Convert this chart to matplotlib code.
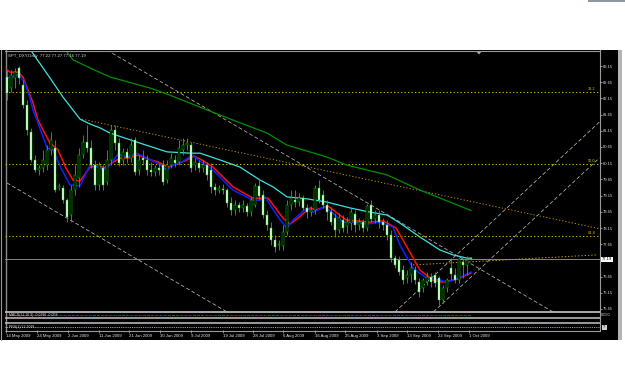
import matplotlib
matplotlib.use('Agg')
import matplotlib.pyplot as plt
from matplotlib.patches import Rectangle, Polygon
import matplotlib.transforms as mtransforms

plt.rcParams['font.family'] = ['Liberation Sans', 'DejaVu Sans']

W, H = 625, 379

# ---------------- data ----------------
opens = [82.81, 82.47, 82.78, 83.09, 82.56, 81.95, 81.11, 80.25, 79.94, 80.00,
         80.09, 80.56, 80.62, 79.39, 79.39, 79.01, 78.55, 79.32, 79.69, 80.40,
         80.80, 80.62, 80.09, 79.48, 80.00, 79.57, 80.25, 81.17, 80.77, 80.25,
         80.50, 80.31, 80.87, 79.94, 80.31, 80.25, 79.94, 79.88, 80.00, 80.09,
         79.63, 80.09, 80.25, 80.19, 80.56, 80.71, 80.71, 80.09, 80.16, 80.00,
         80.09, 79.94, 79.42, 79.32, 79.35, 79.32, 78.92, 78.71, 78.86, 78.77,
         78.83, 78.64, 78.86, 79.45, 79.17, 78.55, 78.15, 77.78, 77.63, 77.60,
         78.03, 78.86, 79.01, 78.95, 79.08, 78.77, 78.64, 78.71, 79.39, 79.17,
         78.86, 78.64, 78.46, 78.09, 78.40, 78.21, 78.30, 78.58, 78.24, 78.34,
         78.15, 78.86, 78.43, 78.55, 78.34, 78.24, 77.94, 77.22, 77.16, 76.85,
         76.61, 76.70, 76.85, 76.48, 76.30, 76.48, 76.64, 76.70, 76.61, 75.93,
         76.30, 76.91, 76.70, 76.55, 77.10, 77.00, 77.22]
highs = [83.03, 83.03, 83.09, 83.15, 82.72, 82.10, 81.24, 80.40, 80.09, 80.56,
         80.71, 81.11, 80.87, 79.54, 79.48, 79.08, 79.48, 80.09, 80.62, 81.02,
         81.33, 80.87, 80.25, 80.19, 80.09, 80.56, 81.33, 81.33, 80.93, 80.62,
         80.62, 80.93, 80.96, 80.40, 80.56, 80.40, 80.19, 80.09, 80.16, 80.25,
         80.25, 80.46, 80.40, 80.87, 80.93, 80.93, 80.80, 80.31, 80.25, 80.25,
         80.19, 80.16, 79.54, 79.48, 79.51, 79.39, 79.11, 79.01, 78.95, 79.01,
         78.92, 79.11, 79.54, 79.69, 79.32, 78.71, 78.34, 77.94, 77.78, 78.24,
         79.01, 79.32, 79.32, 79.23, 79.17, 78.89, 78.83, 79.48, 79.63, 79.32,
         79.01, 78.80, 78.61, 78.61, 78.55, 78.49, 78.77, 78.71, 78.46, 78.43,
         78.89, 79.01, 78.71, 78.71, 78.46, 78.40, 78.09, 77.32, 77.29, 77.00,
         76.85, 77.10, 76.97, 76.61, 76.61, 76.79, 76.76, 76.79, 76.67, 76.39,
         76.61, 77.22, 76.91, 77.26, 77.22, 77.29, 77.27]
lows = [82.10, 82.35, 82.47, 82.59, 81.85, 81.02, 80.19, 79.88, 79.79, 79.88,
        79.94, 80.40, 79.26, 79.32, 78.92, 78.34, 78.34, 79.17, 79.42, 80.31,
        80.50, 80.00, 79.32, 79.32, 79.32, 79.48, 80.09, 80.56, 80.06, 80.09,
        80.16, 80.19, 79.79, 79.79, 80.09, 79.79, 79.76, 79.76, 79.79, 79.48,
        79.54, 80.00, 80.03, 80.09, 80.40, 80.56, 79.88, 79.94, 79.88, 79.88,
        79.63, 79.23, 79.17, 79.23, 79.20, 78.80, 78.55, 78.55, 78.64, 78.64,
        78.52, 78.52, 78.80, 79.01, 78.46, 78.09, 77.63, 77.41, 77.47, 77.47,
        77.94, 78.71, 78.80, 78.83, 78.71, 78.46, 78.52, 78.58, 78.92, 78.77,
        78.40, 78.24, 77.87, 78.00, 78.03, 78.00, 78.09, 78.03, 78.09, 78.03,
        78.06, 78.34, 78.30, 78.15, 78.09, 77.78, 77.10, 76.91, 76.70, 76.42,
        76.45, 76.48, 76.42, 76.02, 76.17, 76.39, 76.33, 76.33, 75.77, 75.84,
        76.17, 76.55, 76.45, 76.45, 76.61, 76.70, 77.16]
closes = [82.32, 82.87, 82.96, 82.78, 81.95, 81.17, 80.25, 79.94, 80.00, 80.25,
          80.56, 80.87, 79.32, 79.45, 79.01, 78.49, 79.32, 79.79, 80.40, 80.80,
          80.62, 80.09, 79.48, 80.09, 79.48, 80.25, 81.17, 80.77, 80.16, 80.50,
          80.31, 80.71, 79.88, 80.25, 80.25, 79.94, 79.88, 80.00, 79.94, 79.57,
          80.09, 80.31, 80.16, 80.62, 80.71, 80.77, 80.00, 80.19, 80.00, 80.09,
          79.79, 79.42, 79.32, 79.39, 79.32, 78.92, 78.71, 78.86, 78.77, 78.86,
          78.64, 79.01, 79.45, 79.14, 78.55, 78.24, 77.78, 77.56, 77.66, 78.03,
          78.86, 79.08, 78.95, 79.08, 78.77, 78.64, 78.71, 79.39, 79.01, 78.86,
          78.64, 78.34, 78.09, 78.46, 78.15, 78.34, 78.64, 78.24, 78.34, 78.15,
          78.83, 78.43, 78.55, 78.34, 78.24, 77.94, 77.22, 77.00, 76.79, 76.55,
          76.70, 76.91, 76.55, 76.17, 76.55, 76.64, 76.48, 76.45, 75.93, 76.30,
          76.55, 76.73, 76.55, 77.19, 77.00, 77.16, 77.19]

# moving averages (bar index, price)
blue_x = [0, 1.25, 2.5, 3.25, 4.5, 5.75, 6.5, 7.5, 10, 11.5, 13.75, 15.75, 18.25,
          20.75, 23.25, 24, 25.75, 27.75, 30, 32.5, 35, 37.5, 40, 41.5, 43.75,
          46.25, 48.25, 51.5, 56.5, 61.5, 63.25, 64.5, 68.25, 70, 71.5, 75, 76.5,
          79.5, 81.5, 84, 86.5, 90, 93.25, 96.5, 98.25, 101.5, 105, 108.25, 110,
          113.25, 116]
blue_y = [82.78, 82.81, 82.87, 82.84, 82.62, 82.16, 81.79, 81.48, 80.62, 80.56,
          79.94, 79.48, 79.45, 80.09, 80.03, 79.94, 80.09, 80.43, 80.34, 80.46,
          80.31, 80.16, 79.94, 80.09, 80.19, 80.40, 80.22, 79.94, 79.32, 79.01,
          79.01, 79.11, 78.40, 78.15, 78.40, 78.77, 78.64, 78.80, 78.61, 78.33,
          78.33, 78.27, 78.33, 78.18, 77.62, 76.91, 76.60, 76.54, 76.48, 76.63,
          76.79]
red_x = [0, 0.75, 2.75, 4, 5.25, 6.5, 7.75, 10.75, 12.75, 14.75, 16.5, 18.25,
         20.75, 23.25, 24.25, 26.25, 28.25, 30.25, 32.75, 35.25, 37.75, 40.25,
         42.25, 44.5, 46.75, 48.75, 51.5, 56.5, 61.5, 63.75, 65.25, 69, 70.75,
         72.5, 75.75, 77.25, 80.25, 82.25, 84.75, 87.25, 90.75, 94, 97.25, 99,
         103.25, 106.5, 109, 112.5, 116]
red_y = [83.03, 82.96, 82.96, 82.81, 82.41, 82.01, 81.48, 80.77, 80.56, 80.00,
         79.63, 79.60, 80.03, 80.06, 80.00, 80.16, 80.31, 80.31, 80.40, 80.28,
         80.19, 80.03, 80.12, 80.22, 80.37, 80.25, 80.03, 79.42, 79.07, 79.07,
         79.07, 78.46, 78.27, 78.43, 78.77, 78.71, 78.83, 78.64, 78.40, 78.37,
         78.33, 78.37, 78.15, 77.78, 76.85, 76.54, 76.48, 76.57, 76.76]
cyan_x = [5.5, 6.25, 10.75, 14, 18.25, 20.75, 23.25, 25.75, 33.25, 40, 45.75,
          48.25, 53.25, 58.25, 63.25, 66.5, 70, 75, 80, 85.75, 90.75, 95, 98.25,
          103.25, 108.25, 111.5, 115, 116]
cyan_y = [83.75, 83.58, 82.78, 82.19, 81.51, 81.36, 81.24, 81.08, 80.77, 80.50,
          80.46, 80.46, 80.25, 80.03, 79.63, 79.42, 79.11, 79.05, 78.95, 78.77,
          78.64, 78.55, 78.30, 77.87, 77.47, 77.32, 77.22, 77.22]
green_x = [14, 15, 16.5, 20.75, 25.75, 35.75, 40.75, 48.25, 56.5, 65, 70, 80, 85,
           90, 95, 103.25, 110.75, 116]
green_y = [83.80, 83.58, 83.34, 83.09, 82.81, 82.47, 82.25, 81.88, 81.48, 81.08,
           80.71, 80.34, 80.09, 79.94, 79.79, 79.32, 78.95, 78.69]

# drawn objects: trend lines (bar index pairs, price pairs)
channel_lines = [([25, 136.5], [83.64, 75.56]),
                 ([0, 55], [79.54, 75.56]),
                 ([97, 148.1], [75.56, 81.42]),
                 ([106.6, 148.1], [75.56, 80.31])]
orange_line = ([18.75, 148.1], [81.51, 78.13])
yellow_line = ([101.5, 147.5], [77.01, 77.32])
fib_levels = [82.35, 80.13, 77.90]
fib_labels = ['38.2', '50.0', '61.8']
last_price = 77.19
price_ticks = [83.15, 82.65, 82.15, 81.65, 81.15, 80.65, 80.15, 79.65, 79.15,
               78.65, 78.15, 77.65, 76.65, 76.15, 75.65]
date_pos = [-0.25, 7.5, 15.25, 23, 30.5, 38.25, 46, 54, 61.5, 69, 77, 84.5,
            92.5, 100, 107.75, 115.5]
date_labels = ['14 May 2009', '24 May 2009', '2 Jun 2009', '11 Jun 2009',
               '21 Jun 2009', '30 Jun 2009', '9 Jul 2009', '19 Jul 2009',
               '28 Jul 2009', '6 Aug 2009', '16 Aug 2009', '25 Aug 2009',
               '3 Sep 2009', '13 Sep 2009', '22 Sep 2009', '1 Oct 2009']
header = 'SPT_DXY,Daily  77.22 77.27 77.16 77.19'

# ---------------- figure ----------------
fig = plt.figure(figsize=(W / 100, H / 100), dpi=100)
fig.patch.set_facecolor('white')
bg = fig.add_axes([0, 0, 1, 1])
bg.set_xlim(0, W)
bg.set_ylim(H, 0)
bg.axis('off')
bg.add_patch(Rectangle((0, 50), 618, 289.5, facecolor='black', edgecolor='none'))
bg.add_patch(Rectangle((618, 50), 3.5, 290, facecolor='#b4b4b4', edgecolor='none'))
bg.add_patch(Rectangle((588, 0), 37, 2, facecolor='#8c9aa0', edgecolor='none'))
bg.plot([0.5, 0.5], [50, 339.5], color='#9a9a9a', lw=0.8)
bg.plot([5.5, 5.5], [50, 331], color='#8a8a8a', lw=1.0)
bg.plot([599.5, 599.5], [50, 331], color='#9a9a9a', lw=0.8)
for yy, c, lw in [(312, '#c4c4c4', 1.2), (317.5, '#c4c4c4', 1.1),
                  (322.5, '#c4c4c4', 1.1), (330.7, '#9a9a9a', 0.8)]:
    bg.plot([5, 599.5], [yy, yy], color=c, lw=lw, solid_capstyle='butt')
bg.add_patch(Polygon([[476, 51], [482, 51], [479, 54.5]], closed=True,
                     facecolor='#b0b0b0', edgecolor='none'))
bg.text(601, 314.5, '0.050', fontsize=2.8, color='#d8d8d8', va='center', ha='left')
bg.add_patch(Rectangle((601.5, 324.5), 5, 5, facecolor='#cfcfcf', edgecolor='none'))
bg.text(604, 327, '?', fontsize=2.8, color='black', va='center', ha='center')


def fax(x0, y0, x1, y1):
    return fig.add_axes([x0 / W, 1 - y1 / H, (x1 - x0) / W, (y1 - y0) / H])


X0, X1 = 5.0, 599.5
XL = ((X0 - 7) / 4, (X1 - 7) / 4)

ax = fax(X0, 50.5, X1, 312)
ax.set_facecolor('none')
ax.set_xlim(*XL)
ax.set_ylim(83.15 - (312 - 66) / 32.4, 83.15 + (66 - 50.5) / 32.4)
for s in ax.spines.values():
    s.set_visible(False)
ax.spines['top'].set_visible(True)
ax.spines['top'].set_color('#9a9a9a')
ax.spines['top'].set_linewidth(0.8)
ax.set_xticks([])
ax.yaxis.tick_right()
ax.set_yticks(price_ticks)
ax.set_yticklabels([f'{p:.2f}' for p in price_ticks])
ax.tick_params(axis='y', colors='#c0c0c0', labelcolor='#d8d8d8', labelsize=3.0,
               length=1.5, width=0.5, pad=1.2)

# fib levels & horizontal price line
for lvl, lab in zip(fib_levels, fib_labels):
    ax.axhline(lvl, color='#d2b400', lw=0.7, ls=(0, (1.4, 2.2)))
    ax.text(145.3, lvl + 0.03, lab, fontsize=2.8, color='#d8c800', ha='left', va='bottom')
ax.axhline(last_price, color='#909090', lw=0.65)

# trend lines
for xs, ys in channel_lines:
    ax.plot(xs, ys, color='#b8b8b8', lw=0.55, ls=(0, (5, 3)))
ax.plot(*orange_line, color='#c89600', lw=0.65, ls=(0, (1.4, 2.2)))
ax.plot(*yellow_line, color='#c8a000', lw=0.7, ls=(0, (1.4, 2.0)))

# moving averages
ax.plot(green_x, green_y, color='#009000', lw=0.9)
ax.plot(cyan_x, cyan_y, color='#40e0e0', lw=0.9)
ax.plot(red_x, red_y, color='#ff1010', lw=1.1)
ax.plot(blue_x, blue_y, color='#1020ff', lw=1.1)

# candles
idx = list(range(len(opens)))
ax.vlines(idx, lows, highs, color='#00d000', lw=0.6, zorder=3)
bodies_b = [min(o, c) for o, c in zip(opens, closes)]
bodies_h = [max(abs(c - o), 0.012) for o, c in zip(opens, closes)]
face = ['white' if c < o else 'black' for o, c in zip(opens, closes)]
ax.bar(idx, bodies_h, bottom=bodies_b, width=0.62, color=face, edgecolor='#00d000',
       linewidth=0.35, zorder=4)

# last price box
trans = mtransforms.blended_transform_factory(ax.transAxes, ax.transData)
ax.text(1.004, last_price, f'{last_price:.2f}', transform=trans, fontsize=3.0,
        color='black', ha='left', va='center', clip_on=False,
        bbox=dict(boxstyle='square,pad=0.12', fc='white', ec='none'))

fig.text(8 / W, 1 - 55.5 / H, header, fontsize=3.1, color='#d8d8d8', va='center', ha='left')

# indicator 1
ax1 = fax(X0, 313, X1, 316.8)
ax1.set_facecolor('none')
ax1.set_xlim(*XL)
ax1.set_ylim(0, 1)
ax1.axis('off')
ax1.hlines(0.45, 0, 116, color='#ff2020', lw=0.6, ls=(0, (1, 1.5)))
ax1.hlines(0.45, 0.8, 116, color='#8040ff', lw=0.6, ls=(0, (1, 4)))
ax1.text(0.5, 0.5, 'MACD(12,26,9) -0.0386 -0.058', fontsize=2.5, color='#e0e0e0',
         va='center', ha='left')

# indicator 2 with date axis
ax2 = fax(X0, 323.5, X1, 330.3)
ax2.set_facecolor('none')
ax2.set_xlim(*XL)
ax2.set_ylim(0, 1)
for s in ax2.spines.values():
    s.set_visible(False)
ax2.set_yticks([])
ax2.hlines(0.5, XL[0], XL[1], color='#b0d8ff', lw=0.6, ls=(0, (1, 1.2)))
ax2.text(0.5, 0.55, 'PRS(1) 52.7036', fontsize=2.5, color='#e0e0e0', va='center', ha='left')
ax2.set_xticks(date_pos)
ax2.set_xticklabels(date_labels)
for lab in ax2.get_xticklabels():
    lab.set_ha('left')
ax2.tick_params(axis='x', colors='#b0b0b0', labelcolor='#e8e8e8', labelsize=3.1,
                length=2.0, width=0.5, pad=0.8)

fig.savefig('out.png', dpi=100, facecolor='white')
